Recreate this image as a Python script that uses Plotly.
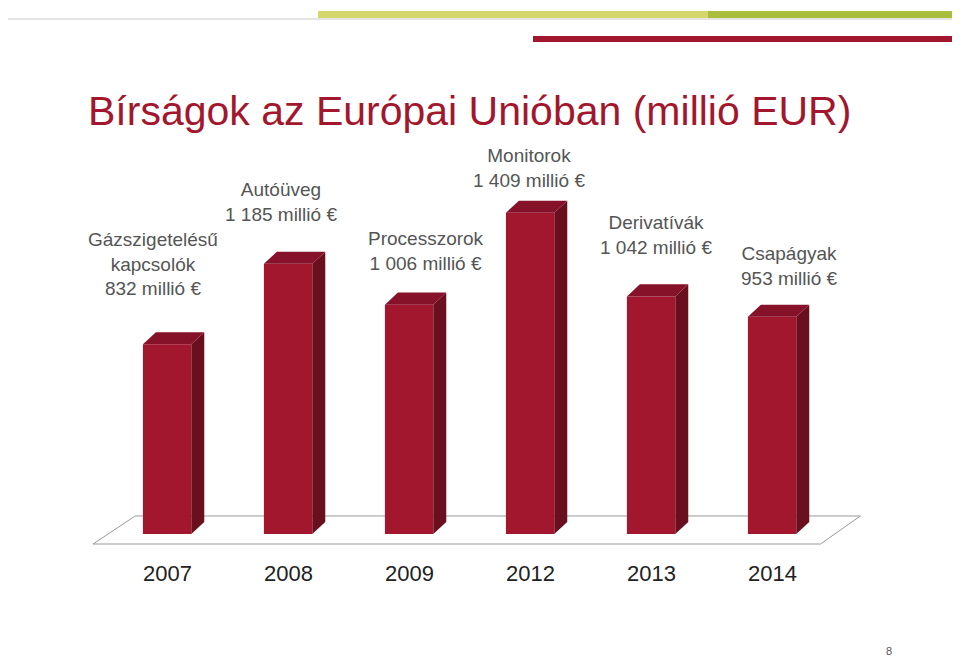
import plotly.graph_objects as go

years = ["2007", "2008", "2009", "2012", "2013", "2014"]
fines = [832, 1185, 1006, 1409, 1042, 953]
labels = ["Gázszigetelésű<br>kapcsolók<br>832 millió €",
          "Autóüveg<br>1 185 millió €",
          "Processzorok<br>1 006 millió €",
          "Monitorok<br>1 409 millió €",
          "Derivatívák<br>1 042 millió €",
          "Csapágyak<br>953 millió €"]
# label placement relative to bar top (layout only)
lab_dx = [-0.12, -0.06, 0.14, -0.01, 0.04, 0.14]
lab_dy = [190, 161, 126, 87, 160, 113]

FRONT = "#A3172E"
SIDE = "#6A0F1E"
TOP = "#86122A"
hw = 0.2     # half width of the bar front
dx = 0.107   # depth offset in x
dy = 53      # depth offset in y

L, R, T, B = 72, 87, 143, 63
W, H = 960 - L - R, 656 - T - B

fig = go.Figure()

# floor
fig.add_trace(go.Scatter(x=[-0.612, 5.40, 5.73, -0.264, -0.612], y=[-44, -44, 79, 79, -44],
                         mode="lines", line=dict(color="#999999", width=1),
                         fill="toself", fillcolor="white", hoverinfo="skip", showlegend=False))

for i, v in enumerate(fines):
    x0, x1 = i - hw, i + hw
    # front
    fig.add_trace(go.Scatter(x=[x0, x1, x1, x0, x0], y=[0, 0, v, v, 0],
                             mode="lines", line=dict(width=0), fill="toself",
                             fillcolor=FRONT, hoverinfo="skip", showlegend=False))
    # side
    fig.add_trace(go.Scatter(x=[x1, x1 + dx, x1 + dx, x1, x1], y=[0, dy, v + dy, v, 0],
                             mode="lines", line=dict(width=0), fill="toself",
                             fillcolor=SIDE, hoverinfo="skip", showlegend=False))
    # top
    fig.add_trace(go.Scatter(x=[x0, x1, x1 + dx, x0 + dx, x0], y=[v, v, v + dy, v + dy, v],
                             mode="lines", line=dict(width=0), fill="toself",
                             fillcolor=TOP, hoverinfo="skip", showlegend=False))

for i, v in enumerate(fines):
    fig.add_annotation(x=i + lab_dx[i], y=v + lab_dy[i], text=labels[i], showarrow=False,
                       yanchor="bottom", font=dict(size=19, color="#555555"))
    fig.add_annotation(x=i, y=-175, text=years[i], showarrow=False,
                       font=dict(size=22, color="#222222"))

fig.update_layout(
    width=960, height=656,
    margin=dict(l=L, r=R, t=T, b=B),
    plot_bgcolor="white", paper_bgcolor="white",
    font=dict(family="Liberation Sans, Arial, sans-serif"),
    xaxis=dict(range=[-0.72, 5.9], visible=False),
    yaxis=dict(range=[-294, 1680], visible=False),
)


# paper pixel helpers for slide decoration
def px(x):
    return (x - L) / W


def py(y):
    return (656 - B - y) / H


fig.add_shape(type="rect", xref="paper", yref="paper", x0=px(0), x1=px(960), y0=py(12), y1=py(10),
              fillcolor="#E4E4E4", line=dict(width=0))
fig.add_shape(type="rect", xref="paper", yref="paper", x0=px(310), x1=px(960), y0=py(10), y1=py(3),
              fillcolor="#D4D86A", line=dict(width=0))
fig.add_shape(type="rect", xref="paper", yref="paper", x0=px(700), x1=px(960), y0=py(10), y1=py(3),
              fillcolor="#A9BE3C", line=dict(width=0))
fig.add_shape(type="rect", xref="paper", yref="paper", x0=px(525), x1=px(960), y0=py(34), y1=py(28),
              fillcolor="#A3172E", line=dict(width=0))
fig.add_annotation(xref="paper", yref="paper", x=px(78), y=py(78), xanchor="left",
                   text="Bírságok az Európai Unióban (millió EUR)", showarrow=False,
                   font=dict(size=41, color="#A3172E"))
fig.add_annotation(xref="paper", yref="paper", x=px(886), y=py(651), text="8", showarrow=False,
                   font=dict(size=11, color="#555555"))

fig.write_html("out.html")
